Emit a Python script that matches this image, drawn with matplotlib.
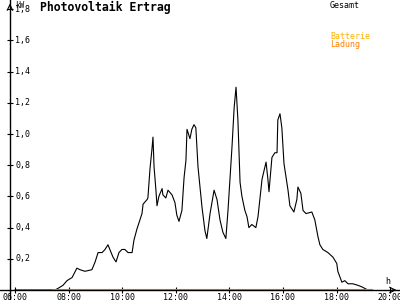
import matplotlib
matplotlib.use('Agg')
import matplotlib.pyplot as plt

# PV-Ertrag (Gesamt) in kW
hours = [6.00, 7.49, 7.60, 7.79, 7.94, 8.13, 8.31, 8.43, 8.61, 8.87, 8.99,
         9.10, 9.25, 9.36, 9.47, 9.54, 9.66, 9.77, 9.88, 9.99, 10.10, 10.22,
         10.37, 10.44, 10.55, 10.74, 10.78, 10.93, 10.96, 11.04, 11.11, 11.15,
         11.19, 11.26, 11.30, 11.37, 11.49, 11.52, 11.63, 11.71, 11.86, 11.97,
         12.04, 12.12, 12.23, 12.31, 12.38, 12.42, 12.53, 12.60, 12.68, 12.75,
         12.83, 12.98, 13.09, 13.16, 13.28, 13.43, 13.54, 13.65, 13.76, 13.87,
         13.95, 14.10, 14.18, 14.25, 14.32, 14.40, 14.47, 14.58, 14.66, 14.73,
         14.84, 14.99, 15.07, 15.22, 15.37, 15.44, 15.48, 15.59, 15.70, 15.78,
         15.81, 15.89, 15.96, 16.04, 16.19, 16.26, 16.41, 16.52, 16.56, 16.67,
         16.75, 16.86, 17.08, 17.19, 17.31, 17.38, 17.49, 17.68, 17.87, 18.01,
         18.05, 18.20, 18.31, 18.43, 18.61, 18.80, 18.95, 19.06, 19.17]
gesamt = [0.00, 0.00, 0.01, 0.03, 0.06, 0.08, 0.14, 0.13, 0.12, 0.13, 0.18,
          0.24, 0.24, 0.26, 0.29, 0.26, 0.21, 0.18, 0.24, 0.26, 0.26, 0.24,
          0.24, 0.32, 0.39, 0.49, 0.55, 0.58, 0.59, 0.78, 0.90, 0.98,
          0.79, 0.64, 0.54, 0.60, 0.65, 0.61, 0.59, 0.64, 0.61, 0.56,
          0.48, 0.44, 0.51, 0.72, 0.83, 1.03, 0.97, 1.03, 1.06, 1.04,
          0.79, 0.53, 0.38, 0.33, 0.49, 0.64, 0.58, 0.45, 0.37, 0.33,
          0.51, 0.92, 1.17, 1.30, 1.09, 0.69, 0.60, 0.51, 0.47, 0.40,
          0.42, 0.40, 0.47, 0.71, 0.82, 0.71, 0.63, 0.85, 0.88, 0.88,
          1.09, 1.13, 1.04, 0.81, 0.64, 0.54, 0.50, 0.58, 0.66, 0.62,
          0.51, 0.49, 0.50, 0.45, 0.34, 0.29, 0.26, 0.24, 0.21, 0.17,
          0.12, 0.05, 0.06, 0.04, 0.04, 0.03, 0.02, 0.01, 0.00]

# Batterie-Ladung (durchgehend 0)
ladung_hours = [7.42, 19.32]
ladung = [0.0, 0.0]

xticks = [6, 8, 10, 12, 14, 16, 18, 20]
xlabels = ['06:00', '08:00', '10:00', '12:00', '14:00', '16:00', '18:00', '20:00']
yticks = [0.2, 0.4, 0.6, 0.8, 1.0, 1.2, 1.4, 1.6, 1.8]
ylabels = ['0,2', '0,4', '0,6', '0,8', '1,0', '1,2', '1,4', '1,6', '1,8']

mono = 'DejaVu Sans Mono'
orange = '#ff8000'
yellow = '#ffb000'

fig = plt.figure(figsize=(4, 3), dpi=100)
ax = fig.add_axes([0, 0, 1, 1])
x0, x1 = 5.44, 20.37
y0, y1 = -0.064, 1.859
ax.set_xlim(x0, x1)
ax.set_ylim(y0, y1)
yaxis_x = 5.81

for s in ['top', 'right']:
    ax.spines[s].set_visible(False)
ax.spines['left'].set_position(('data', yaxis_x))
ax.spines['bottom'].set_position(('data', 0))
ax.spines['left'].set_linewidth(1)
ax.spines['bottom'].set_linewidth(1)

ax.plot(hours, gesamt, color='black', lw=0.8)
ax.plot(ladung_hours, ladung, color=orange, lw=1.5)

ax.set_xticks(xticks)
ax.set_xticklabels(xlabels, fontfamily=mono, fontsize=6)
ax.set_yticks(yticks)
ax.set_yticklabels([])
ax.tick_params(axis='both', direction='inout', length=4, width=0.8, pad=0.5)
for v, lab in zip(yticks, ylabels):
    ax.text(6.0, v, lab, fontfamily=mono, fontsize=6, ha='left', va='center')

# Pfeilspitzen der Achsen
ax.annotate('', xy=(yaxis_x, y1 - 0.005), xytext=(yaxis_x, y1 - 0.06),
            arrowprops=dict(arrowstyle='->', lw=0.8, color='black'))
ax.annotate('', xy=(x1 - 0.03, 0), xytext=(x1 - 0.4, 0),
            arrowprops=dict(arrowstyle='->', lw=0.8, color='black'))

fig.text(15 / 400, 1 - 0.5 / 300, 'kW', fontfamily=mono, fontsize=5.5, va='top')
fig.text(40 / 400, 1 - 1 / 300, 'Photovoltaik Ertrag', fontfamily=mono,
         fontsize=8.3, fontweight='bold', va='top')
fig.text(330 / 400, 1 - 1 / 300, 'Gesamt', fontfamily=mono, fontsize=6, va='top')
fig.text(330 / 400, 1 - 32 / 300, 'Batterie', fontfamily=mono, fontsize=6,
         va='top', color=yellow)
fig.text(330 / 400, 1 - 40 / 300, 'Ladung', fontfamily=mono, fontsize=6,
         va='top', color=orange)
fig.text(385 / 400, 1 - 277 / 300, 'h', fontfamily=mono, fontsize=6, va='top')

fig.savefig('out.png', dpi=100)
